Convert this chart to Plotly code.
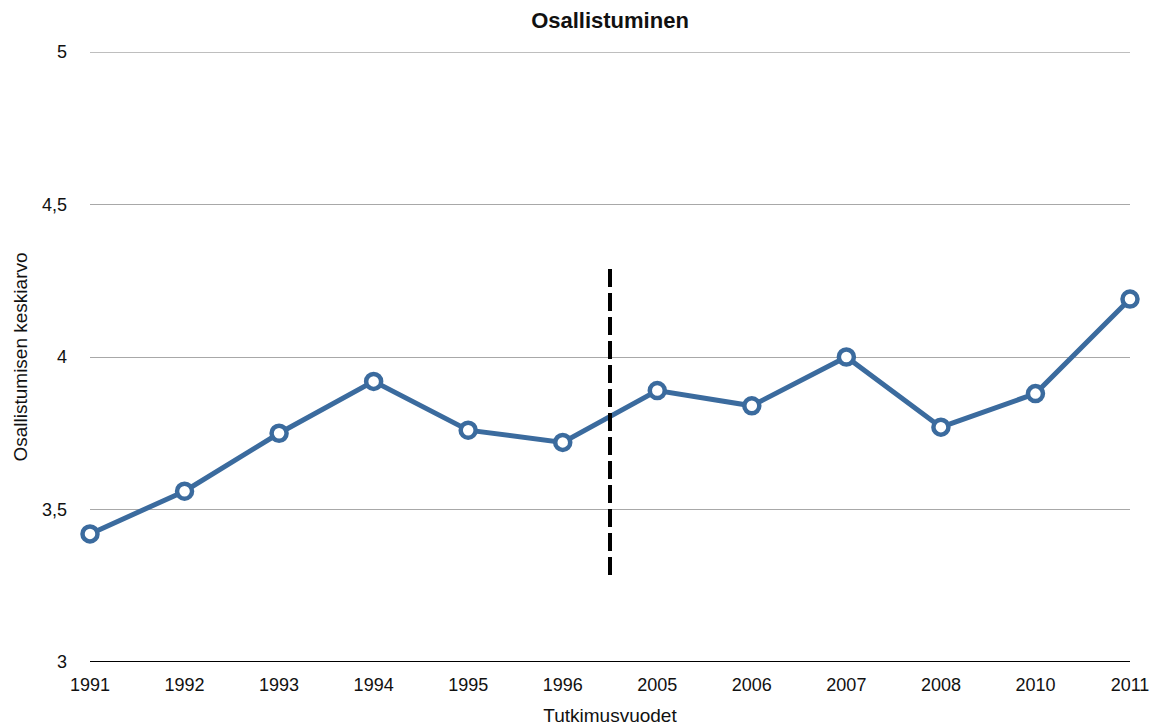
import plotly.graph_objects as go

years = ["1991", "1992", "1993", "1994", "1995", "1996",
         "2005", "2006", "2007", "2008", "2010", "2011"]
means = [3.42, 3.56, 3.75, 3.92, 3.76, 3.72,
         3.89, 3.84, 4.00, 3.77, 3.88, 4.19]
y_ticks = [3, 3.5, 4, 4.5, 5]
y_tick_labels = ["3", "3,5", "4", "4,5", "5"]
# break marker between the 1990s and 2000s survey series
break_pos = 5.5
break_span = [3.285, 4.30]

blue = "#3b6b9e"
font = "Liberation Sans, Arial, Helvetica, sans-serif"

fig = go.Figure()
fig.add_trace(go.Scatter(
    x=years, y=means, mode="lines+markers",
    line=dict(color=blue, width=5),
    marker=dict(size=15, color="white", line=dict(color=blue, width=4.5)),
    cliponaxis=False, showlegend=False,
))

fig.add_shape(type="line", xref="x", yref="y",
              x0=break_pos, x1=break_pos, y0=break_span[0], y1=break_span[1],
              line=dict(color="black", width=4, dash="18px,6px"))

fig.update_layout(
    width=1166, height=726,
    margin=dict(l=90, r=36, t=52, b=64, autoexpand=False),
    plot_bgcolor="white", paper_bgcolor="white",
    font=dict(family=font, size=18, color="#111"),
    title=dict(text="<b>Osallistuminen</b>", xref="paper", x=0.5, xanchor="center",
               yref="container", y=0.983, yanchor="top",
               font=dict(size=22, color="#111")),
)
fig.update_xaxes(
    type="category", range=[0, len(years) - 1], automargin=False,
    showgrid=False, zeroline=False, showline=False,
    ticks="", tickfont=dict(size=18), ticklabelstandoff=10,
    title=dict(text="Tutkimusvuodet", font=dict(size=19), standoff=14),
)
fig.update_yaxes(
    range=[3, 5], tickvals=y_ticks, ticktext=y_tick_labels, automargin=False,
    showgrid=True, gridcolor="#a8a8a8", gridwidth=1,
    zeroline=False, showline=False, ticks="",
    tickfont=dict(size=18), ticklabelstandoff=22,
    title=dict(text="Osallistumisen keskiarvo", font=dict(size=19), standoff=9),
)
# top gridline at 5 and the solid baseline at 3
fig.add_shape(type="line", xref="paper", yref="y", x0=0, x1=1, y0=5, y1=5,
              line=dict(color="#a8a8a8", width=1.5))
fig.add_shape(type="line", xref="paper", yref="y", x0=0, x1=1, y0=3, y1=3,
              line=dict(color="black", width=2))

fig.write_html("out.html")
